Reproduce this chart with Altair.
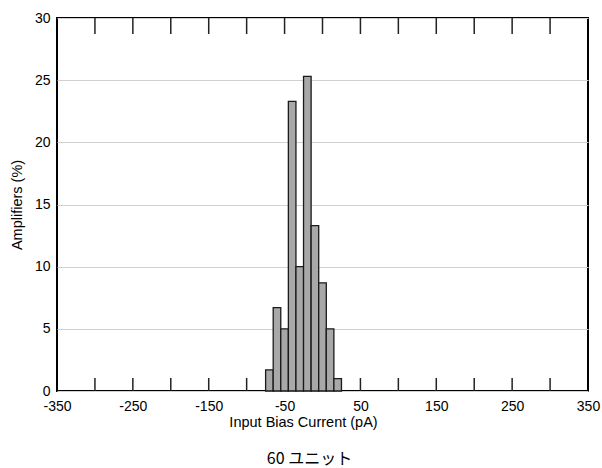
import altair as alt
import pandas as pd

bin_start = [-75, -65, -55, -45, -35, -25, -15, -5, 5, 15]
bin_width = 10
percent = [1.7, 6.7, 5.0, 23.3, 10.0, 25.3, 13.3, 8.7, 5.0, 1.0]
x_label_values = [-350, -250, -150, -50, 50, 150, 250, 350]
x_tick_values = [-300, -250, -200, -150, -100, -50, 0, 50, 100, 150, 200, 250, 300]
y_values = [0, 5, 10, 15, 20, 25, 30]

W, H = 531, 373

bars_df = pd.DataFrame({
    "start": bin_start,
    "end": [s + bin_width for s in bin_start],
    "pct": percent,
    "base": [0] * len(bin_start),
})
ticks_df = pd.DataFrame({"t": x_tick_values})

xscale = alt.Scale(domain=[-350, 350], nice=False, zero=False)
yscale = alt.Scale(domain=[0, 30], nice=False)

font = "Liberation Sans"

bars = alt.Chart(bars_df).mark_rect(
    color="#a8a8a8", stroke="#1a1a1a", strokeWidth=1.3
).encode(
    x=alt.X("start:Q", scale=xscale, axis=alt.Axis(
        values=x_label_values, title="Input Bias Current (pA)",
        labelExpr="datum.value + ''",
        grid=False, ticks=False, domain=False, labelPadding=8,
        labelFontSize=14, titleFontSize=14.5, titleFontWeight="normal",
        titleX=246, titleY=24, labelFont=font, titleFont=font,
        labelColor="black", titleColor="black", labelFlush=False)),
    x2="end:Q",
    y=alt.Y("pct:Q", scale=yscale, axis=alt.Axis(
        values=y_values, title="Amplifiers (%)", grid=True,
        gridColor="#d0d0d0", gridWidth=1, ticks=False, domain=False,
        labelPadding=7, labelFontSize=14, titleFontSize=14.5,
        titleFontWeight="normal", labelFont=font, titleFont=font,
        labelColor="black", titleColor="black", titlePadding=10)),
    y2="base:Q",
)

top_ticks = alt.Chart(ticks_df).mark_rule(color="#222", strokeWidth=1.5).encode(
    x=alt.X("t:Q", scale=xscale),
    y=alt.value(0), y2=alt.value(16),
)
bottom_ticks = alt.Chart(ticks_df).mark_rule(color="#222", strokeWidth=1.5).encode(
    x=alt.X("t:Q", scale=xscale),
    y=alt.value(H - 13), y2=alt.value(H),
)

chart = alt.layer(top_ticks, bottom_ticks, bars).properties(
    width=W, height=H,
    background="white",
    title=alt.TitleParams("60 ユニット", orient="bottom", font="Noto Sans CJK JP",
                          fontSize=16, fontWeight="normal", color="black",
                          offset=22, dx=-13),
    autosize=alt.AutoSizeParams(type="none"),
    padding={"left": 57, "top": 18, "right": 14, "bottom": 77},
).configure_view(
    stroke="black", strokeWidth=2
)

chart.save("out.html", embed_options={"renderer": "svg", "actions": False})
